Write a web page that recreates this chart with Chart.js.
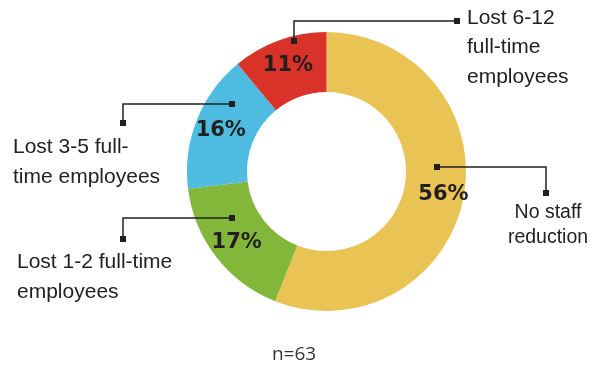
<!DOCTYPE html>
<html>
<head>
<meta charset="utf-8">
<script src="https://cdn.jsdelivr.net/npm/chart.js@4.4.0/dist/chart.umd.min.js"></script>
<style>
  html, body { margin: 0; padding: 0; background: #fff; }
  #wrap { width: 605px; height: 365px; position: relative; }
</style>
</head>
<body>
<div id="wrap"><canvas id="staff_chart"></canvas></div>
<script>
// data
const categories = ['No staff reduction', 'Lost 1-2 full-time employees', 'Lost 3-5 full-time employees', 'Lost 6-12 full-time employees'];
const shares = [56, 17, 16, 11];
const sliceColors = ['#EAC355', '#82B73A', '#4DBCE0', '#D93228'];
const sampleNote = 'n=63';

// how each category name is wrapped next to its leader line
const wrappedNames = [
    ['No staff', 'reduction'],
    ['Lost 1-2 full-time', 'employees'],
    ['Lost 3-5 full-', 'time employees'],
    ['Lost 6-12', 'full-time', 'employees']
];

const ink = '#231F20';

// leader lines, offsets from the doughnut centre
const callouts = [
    { pts: [[110.5, -4.5], [219.5, -4.5], [219.5, 21.5]], text: [221.5, 41.5], align: 'center', size: 19.5, gap: 25, labelR: 0.66 },
    { pts: [[-94.5, 46.5], [-203.5, 46.5], [-203.5, 67.5]], text: [-309.5, 90.5], align: 'left', size: 21, gap: 30, labelR: 0.57 },
    { pts: [[-94.5, -67.5], [-203.5, -67.5], [-203.5, -48.5]], text: [-313.5, -24.5], align: 'left', size: 21, gap: 30, labelR: 0.57 },
    { pts: [[-32.5, -130.5], [-32.5, -150.5], [130.5, -150.5]], text: [140.5, -153.5], align: 'left', size: 21, gap: 29.5, labelR: 0.57 }
];

const calloutPlugin = {
    id: 'callouts',
    afterDraw(chart) {
        const ctx = chart.ctx;
        const arcs = chart.getDatasetMeta(0).data;
        const cx = arcs[0].x;
        const cy = arcs[0].y;
        ctx.save();

        //percent labels on the ring
        arcs.forEach((arc, i) => {
            const mid = (arc.startAngle + arc.endAngle) / 2;
            const r = arc.innerRadius + (arc.outerRadius - arc.innerRadius) * callouts[i].labelR;
            ctx.fillStyle = ink;
            ctx.font = 'bold 21px "DejaVu Sans"';
            ctx.textAlign = 'center';
            ctx.textBaseline = 'middle';
            ctx.fillText(shares[i] + '%', cx + Math.cos(mid) * r, cy + Math.sin(mid) * r + 1);
        });

        //leader lines with square ends
        callouts.forEach((c, i) => {
            ctx.strokeStyle = ink;
            ctx.lineWidth = 1.5;
            ctx.beginPath();
            c.pts.forEach((p, j) => {
                if (j == 0) ctx.moveTo(cx + p[0], cy + p[1]);
                else ctx.lineTo(cx + p[0], cy + p[1]);
            });
            ctx.stroke();
            ctx.fillStyle = ink;
            [c.pts[0], c.pts[c.pts.length - 1]].forEach(p => {
                ctx.fillRect(cx + p[0] - 3, cy + p[1] - 3, 6, 6);
            });

            ctx.fillStyle = '#222';
            ctx.font = c.size + 'px "Liberation Sans"';
            ctx.textAlign = c.align;
            ctx.textBaseline = 'middle';
            wrappedNames[i].forEach((line, k) => {
                ctx.fillText(line, cx + c.text[0], cy + c.text[1] + k * c.gap);
            });
        });

        //sample size
        ctx.fillStyle = '#333';
        ctx.font = '19px "Open Sans"';
        ctx.textAlign = 'center';
        ctx.textBaseline = 'middle';
        ctx.fillText(sampleNote, cx - 32.5, cy + 183.5);
        ctx.restore();
    }
};

new Chart(document.getElementById('staff_chart'), {
    type: 'doughnut',
    data: {
        labels: categories,
        datasets: [{
            data: shares,
            backgroundColor: sliceColors,
            borderWidth: 0
        }]
    },
    options: {
        responsive: true,
        maintainAspectRatio: false,
        animation: false,
        cutout: '57%',
        layout: { padding: { left: 187, right: 139, top: 32, bottom: 54 } },
        plugins: {
            legend: { display: false },
            tooltip: { enabled: false }
        }
    },
    plugins: [calloutPlugin]
});
</script>
</body>
</html>
